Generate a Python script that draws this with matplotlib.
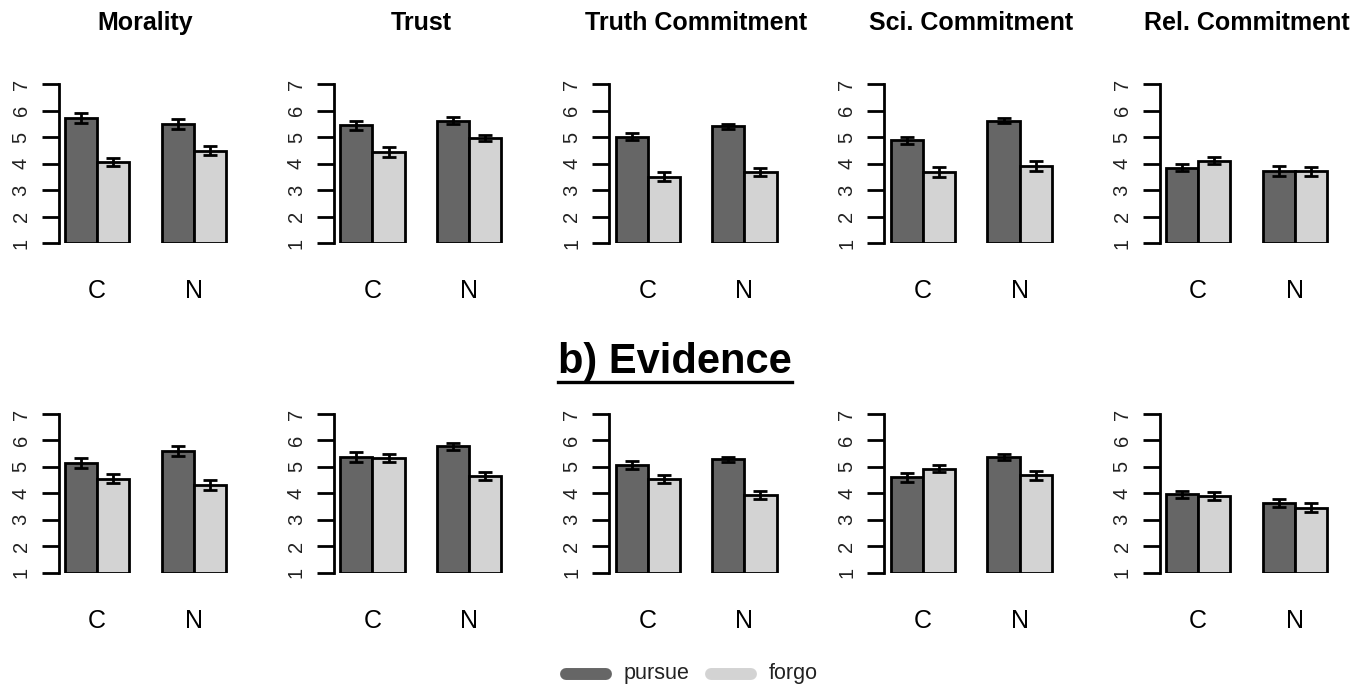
import matplotlib.pyplot as plt
import numpy as np
from matplotlib.lines import Line2D

plt.rcParams['font.family'] = ['Liberation Sans', 'DejaVu Sans']

# mean ratings and standard errors, order: [C, N] for each measure
measures = ['Morality', 'Trust', 'Truth Commitment', 'Sci. Commitment', 'Rel. Commitment']
groups = ['C', 'N']
conditions = ['pursue', 'forgo']

# first block (top row)
pursue_a = [[5.71, 5.49], [5.44, 5.62], [5.02, 5.41], [4.88, 5.62], [3.85, 3.74]]
forgo_a = [[4.05, 4.48], [4.44, 4.97], [3.51, 3.68], [3.67, 3.92], [4.11, 3.72]]
pursue_a_se = [[0.18, 0.18], [0.18, 0.12], [0.14, 0.10], [0.14, 0.10], [0.14, 0.19]]
forgo_a_se = [[0.15, 0.17], [0.18, 0.12], [0.16, 0.14], [0.19, 0.18], [0.14, 0.17]]

# b) Evidence (bottom row)
pursue_b = [[5.14, 5.60], [5.37, 5.78], [5.07, 5.28], [4.60, 5.38], [3.96, 3.65]]
forgo_b = [[4.56, 4.33], [5.33, 4.65], [4.55, 3.92], [4.93, 4.68], [3.89, 3.46]]
pursue_b_se = [[0.20, 0.20], [0.19, 0.13], [0.16, 0.10], [0.18, 0.12], [0.13, 0.15]]
forgo_b_se = [[0.18, 0.19], [0.14, 0.15], [0.15, 0.15], [0.14, 0.16], [0.15, 0.16]]

dark = '#666666'
light = '#d3d3d3'

W, H = 1368, 687
fig = plt.figure(figsize=(W / 100, H / 100), dpi=100)


def px_axes(left, bottom_px, width, height):
    # bottom_px measured from top of image
    return fig.add_axes([left / W, (H - bottom_px) / H, width / W, height / H])


def draw_panel(ax, p, f, pse, fse, title=None):
    # R-style barplot layout: bars of width 1, one bar gap between groups
    xc = np.array([1.5, 4.5])
    ax.bar(xc, np.array(p) - 1, width=1, bottom=1, color=dark,
           edgecolor='black', linewidth=2)
    ax.bar(xc + 1, np.array(f) - 1, width=1, bottom=1, color=light,
           edgecolor='black', linewidth=2)
    ax.errorbar(xc, p, yerr=pse, fmt='none', ecolor='black',
                elinewidth=2, capsize=4.8, capthick=2)
    ax.errorbar(xc + 1, f, yerr=fse, fmt='none', ecolor='black',
                elinewidth=2, capsize=4.8, capthick=2)
    ax.set_xlim(0.8, 6.2)
    ax.set_ylim(1, 7)
    for s in ['top', 'right', 'bottom']:
        ax.spines[s].set_visible(False)
    ax.spines['left'].set_linewidth(2)
    ax.spines['left'].set_bounds(1, 7)
    ax.set_yticks(range(1, 8))
    ax.tick_params(axis='y', length=12, width=2, pad=15, labelsize=14.5,
                   labelrotation=90, labelcolor='#222222')
    for lab in ax.get_yticklabels():
        lab.set_va('center')
        lab.set_ha('center')
    ax.set_xticks(xc + 0.5)
    ax.set_xticklabels(groups)
    ax.tick_params(axis='x', length=0, pad=26, labelsize=18)
    if title:
        ax.set_title(title, fontsize=18, fontweight='bold', pad=39)


step = 275.25
for k in range(5):
    left = 58.6 + step * k
    ax = px_axes(left, 243.3, 173.9, 159.3)
    draw_panel(ax, pursue_a[k], forgo_a[k], pursue_a_se[k], forgo_a_se[k],
               title=measures[k])
    ax = px_axes(left, 572.7, 173.9, 158.7)
    draw_panel(ax, pursue_b[k], forgo_b[k], pursue_b_se[k], forgo_b_se[k])

# section heading
fig.text(675 / W, 1 - 362 / H, 'b) Evidence', fontsize=30, fontweight='bold',
         ha='center', va='center')
fig.add_artist(Line2D([558 / W, 792 / W], [1 - 382 / H, 1 - 382 / H],
                      color='black', linewidth=2.4))

# legend
ly = 1 - 674 / H
fig.add_artist(Line2D([566 / W, 606 / W], [ly, ly], color=dark, linewidth=8.6,
                      solid_capstyle='round'))
fig.text(624 / W, ly, conditions[0], fontsize=15.5, ha='left', va='center',
         color='#222222')
fig.add_artist(Line2D([711 / W, 751 / W], [ly, ly], color=light, linewidth=8.6,
                      solid_capstyle='round'))
fig.text(769 / W, ly, conditions[1], fontsize=15.5, ha='left', va='center',
         color='#222222')

fig.savefig('out.png', dpi=100)
